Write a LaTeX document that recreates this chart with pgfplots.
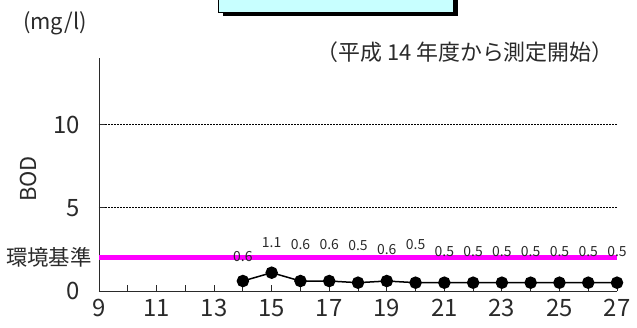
\documentclass[border=0pt]{standalone}
\usepackage{pgfplots}
\pgfplotsset{compat=1.18}
\usepackage{pgfplotstable}
\usepackage{fontspec}
\setmainfont{Noto Sans CJK JP}
\definecolor{txt}{HTML}{2A2A2A}
\definecolor{boxcyan}{HTML}{C8FFFF}
\definecolor{stdmag}{HTML}{FF00FF}

\pgfplotstableread{
x y off lab
14 0.6 24 0.6
15 1.1 30 1.1
16 0.6 36 0.6
17 0.6 36 0.6
18 0.5 37 0.5
19 0.6 31 0.6
20 0.5 38 0.5
21 0.5 31 0.5
22 0.5 31 0.5
23 0.5 31 0.5
24 0.5 31 0.5
25 0.5 31 0.5
26 0.5 31 0.5
27 0.5 31 0.5
}\bodtable

\begin{document}
\begin{tikzpicture}[x=1bp,y=1bp]
\path[use as bounding box] (-99,-36) rectangle (538,291);
% title box (cut off at the top)
\fill[black] (124,275) rectangle (359,291);
\fill[boxcyan] (119,279) rectangle (354,291);
\draw[black, line width=0.8bp] (119,291) -- (119,279) -- (354,279) -- (354,291);
\begin{axis}[
  at={(0,0)}, anchor=south west,
  scale only axis, width=518bp, height=233bp,
  xmin=9, xmax=27, ymin=0, ymax=14,
  axis x line=bottom, axis y line=left,
  axis line style={-, draw=txt, line width=0.9bp},
  xtick={9,11,...,27}, minor xtick={10,12,...,26},
  ytick={5,10}, extra y ticks={0}, extra y tick style={grid=none},
  tick align=inside, major tick length=6bp, minor tick length=6bp,
  tick style={draw=txt, line width=0.8bp},
  ymajorgrids, grid style={black, line width=0.6bp, dash pattern=on 2bp off 1bp},
  /pgf/number format/assume math mode=true,
  ticklabel style={font=\fontsize{24}{24}\selectfont, text=txt, inner sep=0pt},
  xticklabel style={anchor=center, yshift=-17bp},
  yticklabel style={anchor=east, xshift=-19bp},
  clip=false,
]
\addplot[stdmag, line width=5bp, forget plot] coordinates {(9,2) (27,2)};
\addplot[black, line width=1.5bp, mark=*, mark size=5.5bp,
  mark options={fill=black, draw=black},
  point meta=explicit symbolic,
  visualization depends on={\thisrow{off} \as \off},
  nodes near coords={\pgfplotspointmeta},
  nodes near coords style={anchor=center, yshift=\off bp, inner sep=0pt,
    font=\fontsize{14}{14}\selectfont, text=txt},
] table[x=x, y=y, meta=lab] {\bodtable};
\node[anchor=east, inner sep=0pt, text=txt, font=\fontsize{21.5}{21.5}\selectfont]
  at (axis cs:9,2) [xshift=-7bp] {環境基準};
\end{axis}
\node[text=txt, inner sep=0pt, font=\fontsize{22}{22}\selectfont] at (-44,268) {(mg/l)};
\node[text=txt, inner sep=0pt, font=\fontsize{22}{22}\selectfont, rotate=90] at (-70.5,112) {BOD};
\node[text=txt, inner sep=0pt, font=\fontsize{22}{22}\selectfont] at (366,239) {（平成 14 年度から測定開始）};
\end{tikzpicture}
\end{document}
